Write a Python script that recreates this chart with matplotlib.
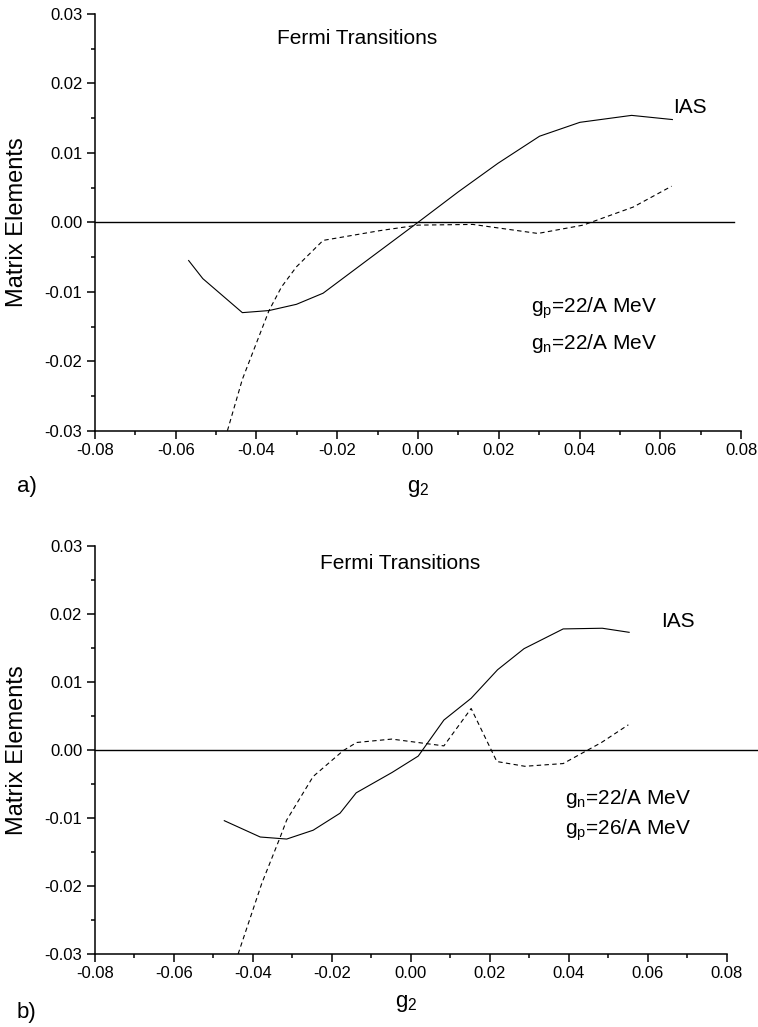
import matplotlib
matplotlib.use('Agg')
import matplotlib.pyplot as plt
from matplotlib.ticker import MultipleLocator, FormatStrFormatter

plt.rcParams['font.family'] = ['Liberation Sans', 'DejaVu Sans']
plt.rcParams['mathtext.default'] = 'regular'
plt.rcParams['axes.unicode_minus'] = False

# panel a) g_p = g_n = 22/A MeV
a_ias_x = [-0.0568, -0.0533, -0.0435, -0.0369, -0.0301, -0.0235, -0.0120, 0.0000, 0.0100, 0.0198, 0.0301, 0.0401, 0.0529, 0.0630]
a_ias_y = [-0.0055, -0.0081, -0.0130, -0.0127, -0.0118, -0.0102, -0.0052, 0.0000, 0.0044, 0.0085, 0.0124, 0.0144, 0.0154, 0.0148]
a_dash_x = [-0.0472, -0.0435, -0.0369, -0.0338, -0.0301, -0.0235, -0.0095, 0.0000, 0.0136, 0.0297, 0.0409, 0.0533, 0.0628]
a_dash_y = [-0.0300, -0.0226, -0.0127, -0.0093, -0.0064, -0.0026, -0.0012, -0.0004, -0.0003, -0.0016, -0.0004, 0.0022, 0.0052]

# panel b) g_n = 22/A MeV, g_p = 26/A MeV
b_ias_x = [-0.0472, -0.0381, -0.0314, -0.0247, -0.0179, -0.0138, -0.0047, 0.0019, 0.0084, 0.0153, 0.0220, 0.0287, 0.0386, 0.0485, 0.0553]
b_ias_y = [-0.0104, -0.0128, -0.0131, -0.0118, -0.0093, -0.0063, -0.0033, -0.0009, 0.0044, 0.0076, 0.0118, 0.0149, 0.0178, 0.0179, 0.0173]
b_dash_x = [-0.0437, -0.0377, -0.0331, -0.0314, -0.0247, -0.0171, -0.0137, -0.0048, 0.0084, 0.0153, 0.0218, 0.0289, 0.0386, 0.0483, 0.0551]
b_dash_y = [-0.0300, -0.0196, -0.0129, -0.0103, -0.0039, -0.0001, 0.0011, 0.0016, 0.0006, 0.0061, -0.0017, -0.0024, -0.0020, 0.0011, 0.0037]

panels = [
    dict(ias=(a_ias_x, a_ias_y), dash=(a_dash_x, a_dash_y), zero_end=0.0783,
         ias_pos=(0.0632, 0.0165), title_pos=(-0.035, 0.0264),
         notes=['g$_p$=22/A MeV', 'g$_n$=22/A MeV'], note_pos=(0.0281, -0.0124, -0.0174)),
    dict(ias=(b_ias_x, b_ias_y), dash=(b_dash_x, b_dash_y), zero_end=0.0877,
         ias_pos=(0.0635, 0.0189), title_pos=(-0.023, 0.0274),
         notes=['g$_n$=22/A MeV', 'g$_p$=26/A MeV'], note_pos=(0.039, -0.0071, -0.0118)),
]

fig = plt.figure(figsize=(7.58, 10.27), dpi=100)
ax_a = fig.add_axes([0.1253, 0.5806, 0.8523, 0.4058])
ax_b = fig.add_axes([0.1250, 0.0711, 0.8337, 0.3973])

# (axes, data, tag, ylabel y, xlabel y, tag y, xlabel x)
layout = [(ax_a, panels[0], 'a)', 0.784, 0.524, 0.526, 0.552),
          (ax_b, panels[1], 'b)', 0.270, 0.023, 0.014, 0.536)]

for ax, p, tag, ylab_y, xlab_y, tag_y, xlab_x in layout:
    ax.plot([-0.08, p['zero_end']], [0, 0], color='black', lw=1.0, clip_on=False)
    ax.plot(*p['ias'], color='black', lw=0.8)
    ax.plot(*p['dash'], color='black', lw=0.8, dashes=(4, 3))

    ax.set_xlim(-0.08, 0.08)
    ax.set_ylim(-0.03, 0.03)
    ax.spines['top'].set_visible(False)
    ax.spines['right'].set_visible(False)
    for s in ['left', 'bottom']:
        ax.spines[s].set_linewidth(1.1)
    ax.xaxis.set_major_locator(MultipleLocator(0.02))
    ax.xaxis.set_minor_locator(MultipleLocator(0.01))
    ax.yaxis.set_major_locator(MultipleLocator(0.01))
    ax.yaxis.set_minor_locator(MultipleLocator(0.005))
    ax.xaxis.set_major_formatter(FormatStrFormatter('%.2f'))
    ax.yaxis.set_major_formatter(FormatStrFormatter('%.2f'))
    ax.tick_params(which='major', direction='out', length=6, width=1.1, labelsize=12, pad=3)
    ax.tick_params(which='minor', direction='out', length=3, width=1.1)

    ax.text(p['title_pos'][0], p['title_pos'][1], 'Fermi Transitions', fontsize=15, va='center')
    ax.text(p['ias_pos'][0], p['ias_pos'][1], 'IAS', fontsize=15, va='center')
    nx, ny1, ny2 = p['note_pos']
    ax.text(nx, ny1, p['notes'][0], fontsize=15, va='center')
    ax.text(nx, ny2, p['notes'][1], fontsize=15, va='center')

    fig.text(0.023, ylab_y, 'Matrix Elements', rotation=90, fontsize=17, ha='center', va='center')
    fig.text(0.022, tag_y, tag, fontsize=16, ha='left', va='center')
    fig.text(xlab_x, xlab_y, 'g$_2$', fontsize=16, ha='center', va='center')

fig.savefig('out.png', dpi=100)
